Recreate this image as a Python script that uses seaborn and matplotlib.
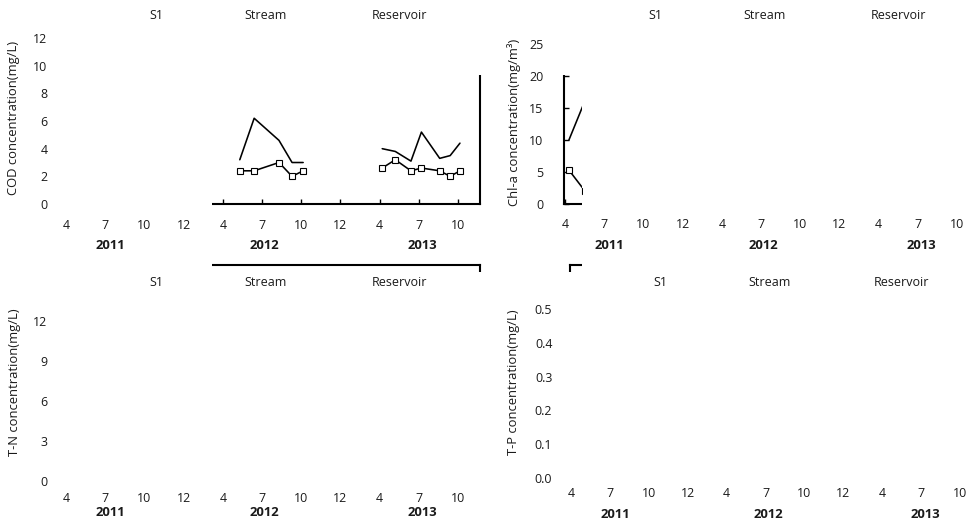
import numpy as np
import pandas as pd
import matplotlib
matplotlib.use("Agg")
import matplotlib.pyplot as plt
from matplotlib.transforms import Bbox, TransformedBbox, blended_transform_factory
import seaborn as sns

# ---- axis categories -------------------------------------------------------
tick_months = [4, 7, 10, 12]
years = [2011, 2012, 2013]
tick_labels = ["4", "7", "10", "12", "4", "7", "10", "12", "4", "7", "10"]
site_names = ["S1", "Stream", "Reservoir"]

# ---- COD (mg/L) ------------------------------------------------------------
cod_year = [2012, 2012, 2012, 2012, 2012, 2013, 2013, 2013, 2013, 2013, 2013, 2013]
cod_month = [5.3, 6.4, 8.3, 9.3, 10.1, 4.2, 5.2, 6.4, 7.2, 8.6, 9.4, 10.1]
cod_line = [3.2, 6.2, 4.6, 3.0, 3.0, 4.0, 3.8, 3.1, 5.2, 3.3, 3.5, 4.4]
cod_square = [2.4, 2.4, 3.0, 2.0, 2.4, 2.6, 3.2, 2.4, 2.6, 2.4, 2.0, 2.4]

# ---- Chl-a (mg/m3) ---------------------------------------------------------
chla_year = [2011, 2011]
chla_month = [4.3, 5.5]
chla_line = [10.0, 16.0]
chla_square = [5.3, 2.1]

# ---- y axes ------------------------------------------------------------------
cod_ticks = [0, 2, 4, 6, 8, 10, 12]
chla_ticks = [0, 5, 10, 15, 20, 25]
tn_ticks = [0, 3, 6, 9, 12]
tp_ticks = [0.0, 0.1, 0.2, 0.3, 0.4, 0.5]

W, H, DPI = 968, 523, 100
INK = "#1a1a1a"

sns.set_theme(style="ticks")
plt.rcParams["font.family"] = ["Open Sans", "DejaVu Sans"]

fig = plt.figure(figsize=(W / DPI, H / DPI), dpi=DPI)
fig.patch.set_facecolor("white")


def month_to_pos(year, month):
    return (year - years[0]) * len(tick_months) + np.interp(
        month, tick_months, np.arange(len(tick_months)))


def series_frame(yrs, months, values):
    pos = [month_to_pos(y, m) for y, m in zip(yrs, months)]
    return pd.DataFrame({"year": yrs, "pos": pos, "value": values})


XLIM = (-0.03, 10.56)

# pixel geometry: x of first tick, px per tick, y of zero, px per unit, y max
panels = [
    dict(geom=(66, 39.2, 204.0, 13.83, 13.0), ylabel="COD concentration(mg/L)",
         yticks=cod_ticks, fmt="{:g}", ylab=(14, 118), xpad=10.5, ypad=12.6,
         year_y=245.5, site_y=15.5,
         series=(series_frame(cod_year, cod_month, cod_line),
                 series_frame(cod_year, cod_month, cod_square))),
    dict(geom=(565, 39.2, 204.0, 6.4, 26.0), ylabel="Chl-a concentration(mg/m³)",
         yticks=chla_ticks, fmt="{:g}", ylab=(514, 122), xpad=10.0, ypad=14.6,
         year_y=245.5, site_y=15.5,
         series=(series_frame(chla_year, chla_month, chla_line),
                 series_frame(chla_year, chla_month, chla_square))),
    dict(geom=(66, 39.2, 480.5, 13.33, 16.17), ylabel="T-N concentration(mg/L)",
         yticks=tn_ticks, fmt="{:g}", ylab=(15, 382), xpad=8.6, ypad=12.8,
         year_y=513, site_y=283, series=None),
    dict(geom=(571, 38.9, 478.0, 338.0, 0.63), ylabel="T-P concentration(mg/L)",
         yticks=tp_ticks, fmt="{:.1f}", ylab=(513, 382.5), xpad=6.8, ypad=12.6,
         year_y=515, site_y=283, series=None),
]

year_label_pos = [1.13, 5.07, 9.1]
site_label_pos = [2.3, 5.1, 8.5]

# region of the canvas where rules and curves are rendered (pixels from top-left)
vis_x0, vis_x1, vis_y0, vis_y1 = 212, 582, 75, 272
vis_box = TransformedBbox(
    Bbox.from_extents(vis_x0 / W, 1 - vis_y1 / H, vis_x1 / W, 1 - vis_y0 / H),
    fig.transFigure)

for p in panels:
    x0, xu, y0, yu, ymax = p["geom"]
    left = x0 + XLIM[0] * xu
    right = x0 + XLIM[1] * xu
    ax = fig.add_axes([left / W, 1 - y0 / H, (right - left) / W, ymax * yu / H])
    ax.set_facecolor("none")

    if p["series"] is not None:
        plain, boxed = p["series"]
        sns.lineplot(data=plain, x="pos", y="value", units="year", estimator=None,
                     sort=False, color="black", lw=1.15, legend=False, ax=ax)
        sns.lineplot(data=boxed, x="pos", y="value", units="year", estimator=None,
                     sort=False, color="black", lw=1.15, legend=False, ax=ax,
                     marker="s", markersize=4.9, markerfacecolor="white",
                     markeredgecolor="black", markeredgewidth=0.8)

    ax.set_xlim(*XLIM)
    ax.set_ylim(0, ymax)
    ax.set_xticks(range(len(tick_labels)))
    ax.set_xticklabels(tick_labels)
    ax.set_yticks(p["yticks"])
    ax.set_yticklabels([p["fmt"].format(v) for v in p["yticks"]])
    ax.set_xlabel("")
    ax.set_ylabel(p["ylabel"], fontsize=9.4, color=INK)
    ax.yaxis.label.set_va("center")
    ax.yaxis.set_label_coords(p["ylab"][0] / W, 1 - p["ylab"][1] / H,
                              transform=fig.transFigure)

    ax.tick_params(axis="both", direction="in", length=3.8, width=1.0,
                   color="black", labelsize=8.9, labelcolor=INK,
                   bottom=True, left=True, top=False, right=False)
    ax.tick_params(axis="x", pad=p["xpad"])
    ax.tick_params(axis="y", pad=p["ypad"])

    for sp in ax.spines.values():
        sp.set_visible(True)
        sp.set_color("black")
        sp.set_linewidth(1.5)

    trans = blended_transform_factory(ax.transData, fig.transFigure)
    for yr, xp in zip(years, year_label_pos):
        ax.text(xp, 1 - p["year_y"] / H, str(yr), transform=trans, ha="center",
                va="center", fontsize=9.4, fontweight="bold", color=INK,
                clip_on=False)
    for name, xp in zip(site_names, site_label_pos):
        ax.text(xp, 1 - p["site_y"] / H, name, transform=trans, ha="center",
                va="center", fontsize=9.0, color=INK, clip_on=False)

    # restrict rules, ticks and curves to the rendered window
    artists = list(ax.lines) + list(ax.spines.values())
    for t in ax.xaxis.get_major_ticks() + ax.yaxis.get_major_ticks():
        artists += [t.tick1line, t.tick2line]
    for a in artists:
        a.set_clip_on(True)
        a.set_clip_path(None)
        a.set_clip_box(vis_box)

fig.savefig("out.png", dpi=DPI, facecolor="white")
